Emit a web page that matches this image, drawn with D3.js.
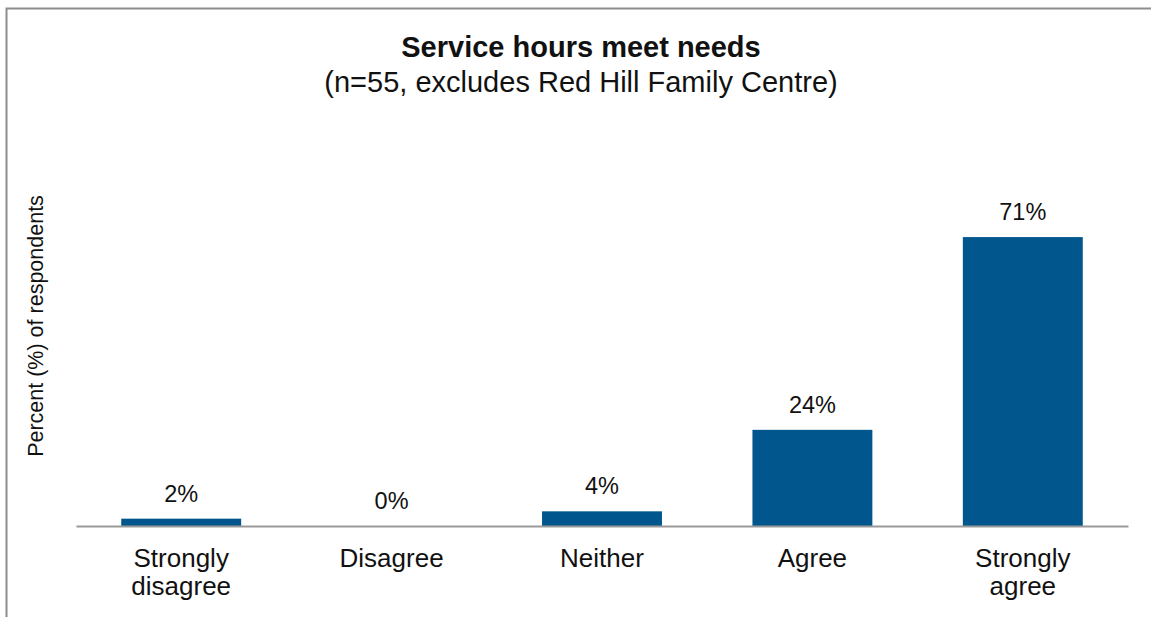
<!DOCTYPE html>
<html>
<head>
<meta charset="utf-8">
<script src="https://cdn.jsdelivr.net/npm/d3@7"></script>
<style>
  html, body { margin: 0; padding: 0; background: #fff; }
  svg { display: block; font-family: "Liberation Sans", Arial, sans-serif; }
</style>
</head>
<body>
<svg id="chart" width="1151" height="617"></svg>
<script>
const categories = [["Strongly", "disagree"], ["Disagree"], ["Neither"], ["Agree"], ["Strongly", "agree"]];
const values = [1.8, 0, 3.6, 23.6, 70.9];
const valueLabels = ["2%", "0%", "4%", "24%", "71%"];
const titleText = "Service hours meet needs";
const subtitleText = "(n=55, excludes Red Hill Family Centre)";
const yAxisLabel = "Percent (%) of respondents";

const svg = d3.select("#chart");
const W = 1151, H = 617;
const plot = { left: 76, right: 1128, top: 200, bottom: 526 };

// frame
svg.append("path")
  .attr("d", `M6.5,${H} V8.5 H${W}`)
  .attr("fill", "none").attr("stroke", "#8c8c8c").attr("stroke-width", 2);

const x = d3.scaleBand()
  .domain(d3.range(categories.length))
  .range([plot.left, plot.right])
  .paddingInner(0.43).paddingOuter(0.215);
const y = d3.scaleLinear().domain([0, 80]).range([plot.bottom, plot.top]);

svg.selectAll("rect.bar").data(values).enter().append("rect")
  .attr("class", "bar")
  .attr("x", (d, i) => x(i))
  .attr("width", x.bandwidth())
  .attr("y", d => y(d))
  .attr("height", d => y(0) - y(d))
  .attr("fill", "#01578d");

// x axis line
const xAxis = d3.axisBottom(x).tickSize(0).tickFormat("");
const gx = svg.append("g").attr("transform", `translate(0,${plot.bottom})`).call(xAxis);
gx.select(".domain").attr("stroke", "#9a9a9a").attr("stroke-width", 2);

// value labels
svg.selectAll("text.val").data(values).enter().append("text")
  .attr("class", "val")
  .attr("x", (d, i) => x(i) + x.bandwidth() / 2)
  .attr("y", d => y(d) - 17)
  .attr("text-anchor", "middle")
  .attr("font-size", 23.5)
  .attr("fill", "#111")
  .text((d, i) => valueLabels[i]);

// category labels
const cat = svg.selectAll("text.cat").data(categories).enter().append("text")
  .attr("class", "cat")
  .attr("text-anchor", "middle")
  .attr("font-size", 26)
  .attr("fill", "#111");
cat.each(function(lines, i) {
  d3.select(this).selectAll("tspan").data(lines).enter().append("tspan")
    .attr("x", x(i) + x.bandwidth() / 2)
    .attr("y", (l, j) => plot.bottom + 41 + j * 28)
    .text(l => l);
});

// title
svg.append("text").attr("x", 581).attr("y", 57)
  .attr("text-anchor", "middle").attr("font-size", 29).attr("font-weight", "bold")
  .attr("fill", "#111").text(titleText);
svg.append("text").attr("x", 581).attr("y", 92)
  .attr("text-anchor", "middle").attr("font-size", 29)
  .attr("fill", "#111").text(subtitleText);

// y label
svg.append("text")
  .attr("transform", `translate(43,326) rotate(-90)`)
  .attr("text-anchor", "middle").attr("font-size", 21.5)
  .attr("fill", "#111").text(yAxisLabel);
</script>
</body>
</html>
